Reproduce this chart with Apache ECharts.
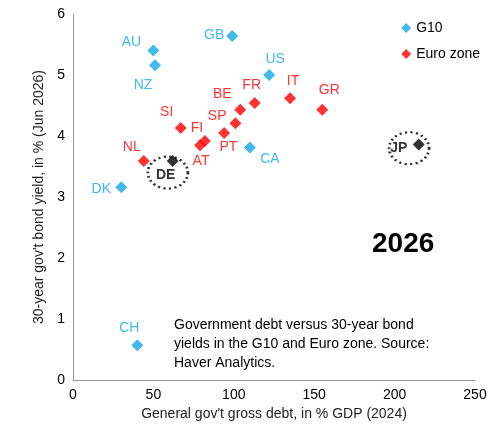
<!DOCTYPE html><html><head><meta charset="utf-8"><script src="https://cdn.jsdelivr.net/npm/echarts@6/dist/echarts.min.js"></script>
<style>html,body{margin:0;padding:0;background:#fff}#c{width:497px;height:433px}</style></head><body><div id="c"></div><script>
const g10Names=['AU','NZ','GB','US','CA','DK','CH','JP'];
const g10Debt=[50,51,99,122,110,30,40,215];
const g10Yield=[5.40,5.16,5.64,5.00,3.81,3.16,0.57,3.86];
const euroNames=['NL','SI','FI','AT','SP','PT','BE','FR','IT','GR','DE'];
const euroDebt=[44,67,82,79,94,101,104,113,135,155,62];
const euroYield=[3.59,4.13,3.92,3.85,4.05,4.21,4.43,4.54,4.62,4.43,3.59];
const labelPos={AU:[-22,-8],NZ:[-12,20],GB:[-18,-1],US:[6,-16],CA:[20,12],DK:[-20,2],CH:[-8,-17],JP:[-20,4],
NL:[-12,-14],SI:[-14,-16],FI:[-8,-13],AT:[1,16],SP:[-7,-17],PT:[-7,24],BE:[-18,-16],FR:[-3,-18],IT:[3,-17],GR:[7,-20],DE:[-7,14]};
const blue='#10a7e6',red='#ff0000';
function mk(names,xs,ys,col){return names.map((n,i)=>{const black=(n==='JP'||n==='DE');
return{name:n,value:[xs[i],ys[i]],itemStyle:{color:black?'#000':col},
label:{show:true,formatter:n,position:'inside',color:black?'#000':col,fontWeight:black?'bold':'normal',fontSize:14,fontFamily:'Liberation Sans'}}});}
function lay(names){return function(p){const o=labelPos[names[p.dataIndex]];return {dx:o[0],dy:o[1]};};}
const circles=[[209,3.8],[59,3.4]];
const chart=echarts.init(document.getElementById('c'));
chart.setOption({animation:false,
grid:{left:73,right:22,top:14,bottom:53},
legend:{data:['G10','Euro zone'],orient:'vertical',right:12,top:16,icon:'diamond',itemWidth:10,itemHeight:10,itemGap:12,textStyle:{fontSize:14,color:'#000',fontFamily:'Liberation Sans'}},
xAxis:{type:'value',min:0,max:250,interval:50,splitLine:{show:false},axisLine:{lineStyle:{color:'#999'}},axisTick:{show:false},
axisLabel:{color:'#000',fontSize:14,fontFamily:'Liberation Sans'},name:'General gov\'t gross debt, in % GDP (2024)',nameLocation:'middle',nameGap:19,nameTextStyle:{fontSize:14,color:'#222',fontFamily:'Liberation Sans'}},
yAxis:{type:'value',min:0,max:6,interval:1,splitLine:{show:false},axisLine:{show:true,lineStyle:{color:'#999'}},axisTick:{show:false},
axisLabel:{color:'#000',fontSize:14,fontFamily:'Liberation Sans'},name:'30-year gov\'t bond yield, in % (Jun 2026)',nameLocation:'middle',nameGap:26,nameTextStyle:{fontSize:14,color:'#222',fontFamily:'Liberation Sans'}},
series:[
{name:'circles',type:'scatter',data:circles,symbol:'circle',symbolSize:[40,32],z:1,silent:true,itemStyle:{color:'rgba(0,0,0,0)',borderColor:'#000',borderWidth:2.5,borderType:[2,3]}},
{name:'G10',type:'scatter',symbol:'diamond',symbolSize:12,itemStyle:{color:blue},data:mk(g10Names,g10Debt,g10Yield,blue),labelLayout:lay(g10Names)},
{name:'Euro zone',type:'scatter',symbol:'diamond',symbolSize:12,itemStyle:{color:red},data:mk(euroNames,euroDebt,euroYield,red),labelLayout:lay(euroNames)}
],
graphic:[{type:'text',left:372,top:230,style:{text:'2026',fontSize:28,fontWeight:'bold',fill:'#000',fontFamily:'Liberation Sans'}},
{type:'text',left:174,top:316,style:{text:'Government debt versus 30-year bond\nyields in the G10 and Euro zone. Source:\nHaver Analytics.',fontSize:14,lineHeight:19,fill:'#000',fontFamily:'Liberation Sans'}}]
});
</script></body></html>
